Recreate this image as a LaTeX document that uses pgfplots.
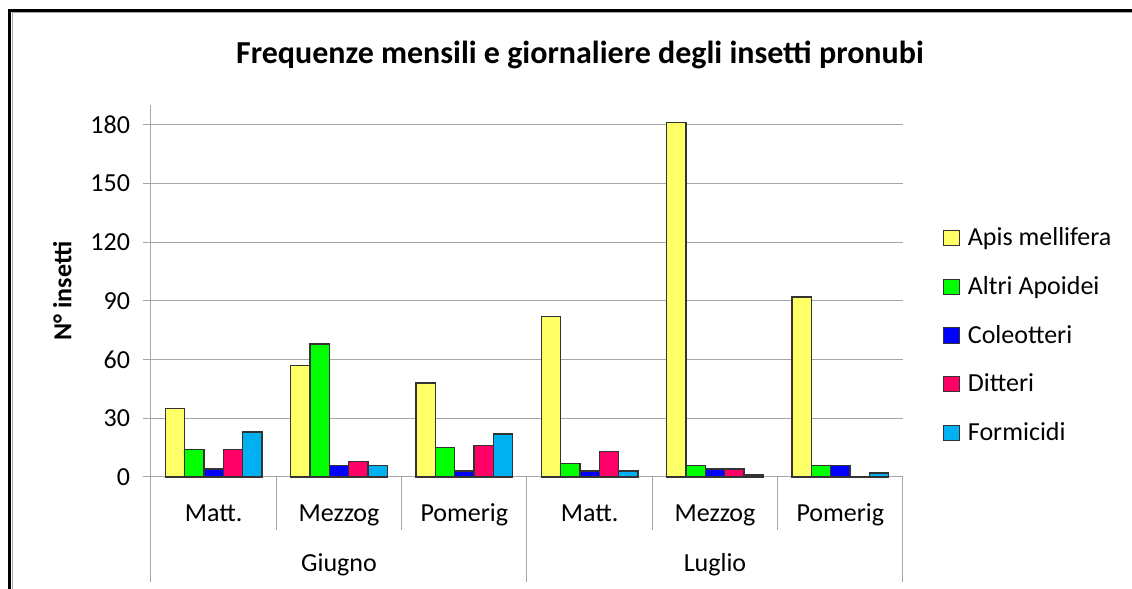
\documentclass[border=0pt]{standalone}
\usepackage{pgfplots}
\pgfplotsset{compat=1.18}
\usepackage{fontspec}
\setmainfont{Carlito}
\definecolor{cApis}{HTML}{FFFF66}
\definecolor{cAltri}{HTML}{00FF00}
\definecolor{cCole}{HTML}{0000FF}
\definecolor{cDitt}{HTML}{FF0066}
\definecolor{cForm}{HTML}{00B0F0}
\definecolor{gridg}{HTML}{A6A6A6}
\begin{document}
\begin{tikzpicture}
\useasboundingbox (0,0) rectangle (566pt,294.5pt);
% chart frame
\draw[black,line width=1.5pt] (4.75pt,-2pt) -- (4.75pt,289.25pt) -- (570pt,289.25pt);
\draw[gridg,line width=0.5pt] (6pt,-2pt) -- (6pt,288pt) -- (570pt,288pt);
% title
\node[font=\bfseries\fontsize{16}{18}\selectfont] at (290pt,267pt) {Frequenze mensili e giornaliere degli insetti pronubi};
\begin{axis}[
  at={(75.5pt,56pt)}, anchor=south west,
  scale only axis, width=376pt, height=186pt,
  xmin=-0.5, xmax=5.5, ymin=0, ymax=190,
  ytick={0,30,...,180},
  xtick={0,...,5},
  xticklabels={Matt.,Mezzog,Pomerig,Matt.,Mezzog,Pomerig},
  x tick style={draw=none},
  y tick style={gridg, line width=0.5pt},
  tick align=outside, major tick length=4pt,
  ymajorgrids, grid style={gridg, line width=0.5pt},
  axis x line*=bottom, axis y line*=left,
  axis line style={gridg, line width=0.5pt, -},
  x axis line style={draw=none},
  /pgf/number format/assume math mode=true,
  tick label style={font=\fontsize{13}{15}\selectfont},
  xticklabel style={yshift=-5pt, text height=9.5pt, text depth=3pt},
  yticklabel style={xshift=-3pt},
  ylabel={N° insetti},
  ylabel style={font=\bfseries\fontsize{13}{15}\selectfont, at={(axis description cs:-0.118,0.5)}, anchor=center},
  clip=false,
  legend style={at={(1.052,0.682)}, anchor=north west, draw=none, fill=none,
    font=\fontsize{13}{15}\selectfont, row sep=9.8pt, inner sep=0pt,
    /tikz/every odd column/.append style={column sep=2pt}},
  legend cell align=left,
  legend image code/.code={\draw[#1,line width=0.5pt] (0pt,-3.8pt) rectangle (8.2pt,3.8pt);},
  every axis plot/.append style={ybar, bar width=0.154, draw=black!80, line width=0.7pt},
]
\draw[gridg,line width=0.5pt] ([xshift=-4pt]axis cs:-0.5,0) -- (axis cs:5.5,0);
\addplot[fill=cApis, bar shift=-0.308] coordinates {(0,35) (1,57) (2,48) (3,82) (4,181) (5,92)};
\addplot[fill=cAltri, bar shift=-0.154] coordinates {(0,14) (1,68) (2,15) (3,7) (4,6) (5,6)};
\addplot[fill=cCole, bar shift=0] coordinates {(0,4) (1,6) (2,3) (3,3) (4,4) (5,6)};
\addplot[fill=cDitt, bar shift=0.154] coordinates {(0,14) (1,8) (2,16) (3,13) (4,4) (5,0)};
\addplot[fill=cForm, bar shift=0.308] coordinates {(0,23) (1,6) (2,22) (3,3) (4,1) (5,2)};
\legend{Apis mellifera,Altri Apoidei,Coleotteri,Ditteri,Formicidi}
% category dividers
\pgfplotsinvokeforeach{0.5,1.5,3.5,4.5}{
  \draw[gridg,line width=0.5pt] (axis cs:#1,0) -- ([yshift=-26.5pt]axis cs:#1,0);
}
\pgfplotsinvokeforeach{-0.5,2.5,5.5}{
  \draw[gridg,line width=0.5pt] (axis cs:#1,0) -- ([yshift=-52.5pt]axis cs:#1,0);
}
\node[font=\fontsize{13}{15}\selectfont, text height=9.5pt, text depth=3pt] at ([yshift=-44pt]axis cs:1,0) {Giugno};
\node[font=\fontsize{13}{15}\selectfont, text height=9.5pt, text depth=3pt] at ([yshift=-44pt]axis cs:4,0) {Luglio};
\end{axis}
\end{tikzpicture}
\end{document}
